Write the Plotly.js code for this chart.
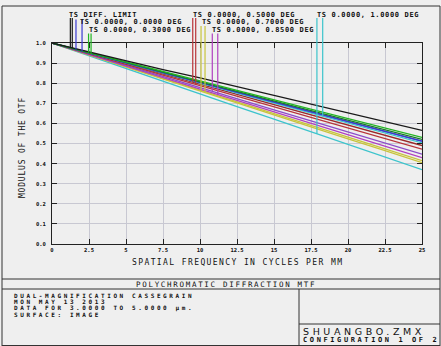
<!DOCTYPE html>
<html><head><meta charset="utf-8">
<script src="https://cdn.plot.ly/plotly-3.0.1.min.js"></script>
<style>html,body{margin:0;padding:0;background:#efefef;overflow:hidden}</style>
</head><body><div id="chart" style="width:441px;height:346px"></div>
<script>
// ---- data ----
const freq = [0, 2.5, 5, 7.5, 10, 12.5, 15, 17.5, 20, 22.5, 25];
const xTickVals = [0, 2.5, 5, 7.5, 10, 12.5, 15, 17.5, 20, 22.5, 25];
const xTickText = ['0', '2.5', '5', '7.5', '10', '12.5', '15', '17.5', '20', '22.5', '25'];
const yTickVals = [0, 0.1, 0.2, 0.3, 0.4, 0.5, 0.6, 0.7, 0.8, 0.9, 1.0];
const yTickText = ['0.0', '0.1', '0.2', '0.3', '0.4', '0.5', '0.6', '0.7', '0.8', '0.9', '1.0'];

const diffLimit = [1.000, 0.955, 0.912, 0.868, 0.826, 0.783, 0.740, 0.696, 0.652, 0.608, 0.565];
const f000T = [1.000, 0.950, 0.901, 0.853, 0.804, 0.755, 0.706, 0.657, 0.609, 0.560, 0.512];
const f000S = [1.000, 0.950, 0.901, 0.853, 0.804, 0.755, 0.706, 0.657, 0.609, 0.560, 0.512];
const f030T = [1.000, 0.952, 0.905, 0.858, 0.811, 0.764, 0.717, 0.670, 0.623, 0.577, 0.530];
const f030S = [1.000, 0.951, 0.903, 0.855, 0.807, 0.759, 0.711, 0.663, 0.615, 0.567, 0.520];
const f050T = [1.000, 0.948, 0.897, 0.846, 0.795, 0.744, 0.693, 0.643, 0.592, 0.541, 0.490];
const f050S = [1.000, 0.946, 0.893, 0.840, 0.788, 0.735, 0.682, 0.630, 0.577, 0.524, 0.472];
const f070T = [1.000, 0.941, 0.882, 0.823, 0.765, 0.706, 0.647, 0.590, 0.532, 0.473, 0.415];
const f070S = [1.000, 0.940, 0.880, 0.820, 0.761, 0.701, 0.642, 0.583, 0.523, 0.464, 0.405];
const f085T = [1.000, 0.944, 0.889, 0.833, 0.778, 0.722, 0.667, 0.612, 0.556, 0.501, 0.447];
const f085S = [1.000, 0.942, 0.885, 0.828, 0.771, 0.714, 0.657, 0.600, 0.543, 0.487, 0.430];
const f100T = [1.000, 0.936, 0.873, 0.809, 0.746, 0.683, 0.621, 0.558, 0.496, 0.433, 0.370];
const f100S = [1.000, 0.949, 0.899, 0.850, 0.800, 0.751, 0.701, 0.651, 0.602, 0.552, 0.503];

const legendLabels = ['TS DIFF. LIMIT', 'TS 0.0000, 0.0000 DEG', 'TS 0.0000, 0.3000 DEG',
  'TS 0.0000, 0.5000 DEG', 'TS 0.0000, 0.7000 DEG', 'TS 0.0000, 0.8500 DEG', 'TS 0.0000, 1.0000 DEG'];
const legendMarkFreq = [[1.24, 1.37], [1.62, 2.03], [2.47, 2.64], [9.51, 9.71], [10.07, 10.34], [10.83, 11.2], [17.9, 18.29]];

const infoLines = ['DUAL-MAGNIFICATION CASSEGRAIN', 'MON MAY 13 2013', 'DATA FOR 3.0000 TO 5.0000 \u00b5m.', 'SURFACE: IMAGE'];

// ---- styling ----
const colors = {black: '#1a1a1a', blue: '#3a3ad0', green: '#22b522', red: '#b8343a', yellow: '#c8c43c', magenta: '#b040c0', cyan: '#3cc4cc'};
const series = [
  {y: f100T, c: colors.cyan}, {y: f070S, c: colors.yellow}, {y: f070T, c: colors.yellow},
  {y: f085S, c: colors.magenta}, {y: f085T, c: '#8c4cc8'}, {y: f050S, c: colors.red}, {y: f050T, c: '#9a2a2a'},
  {y: f100S, c: colors.cyan}, {y: f000S, c: colors.blue}, {y: f000T, c: colors.blue},
  {y: f030S, c: '#1a7a2a'}, {y: f030T, c: colors.green}, {y: diffLimit, c: colors.black}
];
const traces = series.map(s => ({x: freq, y: s.y, type: 'scatter', mode: 'lines', line: {color: s.c, width: 1.3}, hoverinfo: 'skip'}));

// pixel -> paper helpers for layout decoration
const L = 52, R = 422, T = 43, B = 244;
const fx = p => (p - L) / (R - L);
const fy = p => (B - p) / (B - T);
const interp = (arr, f) => {
  for (let i = 0; i < freq.length - 1; i++) {
    if (f >= freq[i] && f <= freq[i + 1]) { const t = (f - freq[i]) / (freq[i + 1] - freq[i]); return arr[i] + t * (arr[i + 1] - arr[i]); }
  }
  return arr[arr.length - 1];
};

const shapes = [];
const line = (x0, y0, x1, y1, color, w) => shapes.push({type: 'line', xref: 'paper', yref: 'paper', x0: fx(x0), y0: fy(y0), x1: fx(x1), y1: fy(y1), line: {color: color || '#333', width: w || 1}});
// frame
line(2, 6, 440, 6); line(2, 6, 2, 346); line(440, 6, 440, 346); line(2, 345.5, 440, 345.5);
line(2, 279, 440, 279); line(2, 289, 440, 289); line(299, 289, 299, 346); line(299, 324, 440, 324);

// legend marker lines (from text down to the curve)
const markPairs = [[diffLimit, diffLimit, colors.black, 18], [f000T, f000S, colors.blue, 19.5], [f030T, f030S, colors.green, 33.5],
  [f050T, f050S, colors.red, 18], [f070T, f070S, colors.yellow, 26], [f085T, f085S, colors.magenta, 33.5], [f100T, f100S, colors.cyan, 18]];
markPairs.forEach((m, i) => {
  legendMarkFreq[i].forEach((f, k) => {
    const val = interp(k === 0 ? m[0] : m[1], f);
    shapes.push({type: 'line', xref: 'paper', yref: 'paper', x0: f / 25, x1: f / 25, y0: val, y1: fy(m[3]), line: {color: m[2], width: 1.2}});
  });
});

const mono = 'DejaVu Sans Mono';
const sp = (t, s) => '<span style="letter-spacing:' + s + 'px">' + t + '</span>';
const ann = (text, x, y, size, spacing, opts) => Object.assign({
  text: sp(text, spacing), xref: 'paper', yref: 'paper', x: fx(x), y: fy(y), xanchor: 'left', yanchor: 'middle', borderpad: 0,
  showarrow: false, font: {family: mono, size: size, color: '#111', weight: 'bold'}
}, opts || {});

const legendPos = [[68, 15], [79, 22.5], [87.5, 30], [192, 15], [201, 22.5], [211, 30], [315.5, 15]];
const annotations = legendLabels.map((t, i) => ann(t, legendPos[i][0], legendPos[i][1], 7, 0.65));
annotations.push(ann('SPATIAL FREQUENCY IN CYCLES PER MM', 237, 262.5, 8, 1.4, {xanchor: 'center', font: {family: mono, size: 8, color: '#111'}}));
annotations.push(ann('MODULUS OF THE OTF', 22, 148, 8, 0.8, {xanchor: 'center', textangle: -90, font: {family: mono, size: 8, color: '#111'}}));
annotations.push(ann('POLYCHROMATIC DIFFRACTION MTF', 226, 284.3, 7.5, 1.7, {xanchor: 'center', font: {family: mono, size: 7.5, color: '#111'}}));
const infoY = [295, 301.6, 308.2, 314.8];
infoLines.forEach((t, i) => annotations.push(ann(t, 13, infoY[i], 6, 2.6)));
annotations.push(ann('SHUANGBO.ZMX', 302, 331.5, 9.5, 3.6, {font: {family: 'DejaVu Sans', size: 9.5, color: '#111'}}));
annotations.push(ann('CONFIGURATION 1 OF 2', 302, 339.7, 7, 2.6));

const axisCommon = {showline: true, linecolor: '#222', linewidth: 1, mirror: 'ticks', ticks: 'inside', ticklen: 5, tickcolor: '#222',
  showgrid: true, gridcolor: '#c8c8d2', gridwidth: 1, zeroline: false, tickfont: {family: mono, size: 5.5, color: '#111', weight: 'bold'}, tickmode: 'array', fixedrange: true};

const layout = {
  width: 441, height: 346, margin: {l: L, r: 441 - R, t: T, b: 346 - B, pad: 0},
  paper_bgcolor: '#efefef', plot_bgcolor: '#efefef', showlegend: false,
  xaxis: Object.assign({}, axisCommon, {range: [0, 25], tickvals: xTickVals, ticktext: xTickText}),
  yaxis: Object.assign({}, axisCommon, {range: [0, 1], tickvals: yTickVals, ticktext: yTickText, ticklabelstandoff: 4}),
  shapes: shapes, annotations: annotations
};
Plotly.newPlot('chart', traces, layout, {staticPlot: true, displayModeBar: false});
</script></body></html>
